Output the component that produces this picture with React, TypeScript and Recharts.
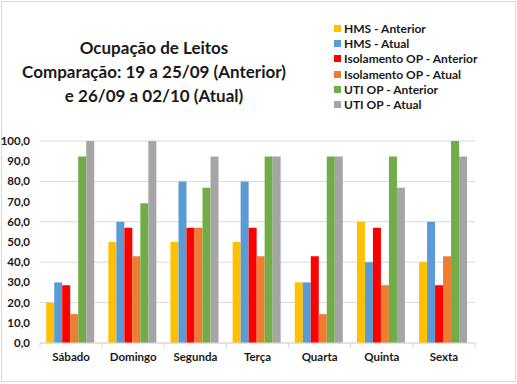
import React from "react";
import { BarChart, Bar, XAxis, YAxis, CartesianGrid } from "recharts";

const categories = ["Sábado", "Domingo", "Segunda", "Terça", "Quarta", "Quinta", "Sexta"];
const hmsAnterior = [20, 50, 50, 50, 30, 60, 40];
const hmsAtual = [30, 60, 80, 80, 30, 40, 60];
const isoAnterior = [28.6, 57.1, 57.1, 57.1, 42.9, 57.1, 28.6];
const isoAtual = [14.3, 42.9, 57.1, 42.9, 14.3, 28.6, 42.9];
const utiAnterior = [92.3, 69.2, 76.9, 92.3, 92.3, 92.3, 100];
const utiAtual = [100, 100, 92.3, 92.3, 92.3, 76.9, 92.3];
const yTicks = [0, 10, 20, 30, 40, 50, 60, 70, 80, 90, 100];
const titleLines = ["Ocupação de Leitos", "Comparação: 19 a 25/09 (Anterior)", "e 26/09 a 02/10 (Atual)"];

const series = [
  { key: "hmsAnterior", name: "HMS - Anterior", color: "#FFC000" },
  { key: "hmsAtual", name: "HMS - Atual", color: "#5B9BD5" },
  { key: "isoAnterior", name: "Isolamento OP - Anterior", color: "#FF0000" },
  { key: "isoAtual", name: "Isolamento OP - Atual", color: "#ED7D31" },
  { key: "utiAnterior", name: "UTI OP - Anterior", color: "#70AD47" },
  { key: "utiAtual", name: "UTI OP - Atual", color: "#A5A5A5" },
];

const data = categories.map((c, i) => ({
  name: c,
  hmsAnterior: hmsAnterior[i],
  hmsAtual: hmsAtual[i],
  isoAnterior: isoAnterior[i],
  isoAtual: isoAtual[i],
  utiAnterior: utiAnterior[i],
  utiAtual: utiAtual[i],
}));

const FONT = "Lato, 'Open Sans', sans-serif";

const CatTick = (props: any) => {
  const { x, y, payload, index } = props;
  const half = 435 / categories.length / 2;
  return (
    <g>
      <line x1={x - half} x2={x - half} y1={y - 8} y2={y - 3} stroke="#D9D9D9" />
      {index === categories.length - 1 && (
        <line x1={x + half} x2={x + half} y1={y - 8} y2={y - 3} stroke="#D9D9D9" />
      )}
      <text x={x} y={y + 10} textAnchor="middle" fontSize={11.5} fontWeight={700} fill="#1a1a1a" fontFamily={FONT}>
        {payload.value}
      </text>
    </g>
  );
};

export default function App() {
  return (
    <div style={{ position: "absolute", left: 0, top: 0, width: 517, height: 384, background: "#fff" }}>
      <div
        style={{
          position: "absolute",
          left: 1,
          top: 1,
          width: 513,
          height: 379,
          border: "1px solid #D9D9D9",
        }}
      />
      <div
        style={{
          position: "absolute",
          left: 4,
          top: 36,
          width: 300,
          textAlign: "center",
          fontFamily: FONT,
          fontWeight: 700,
          fontSize: 17,
          lineHeight: "24px",
          color: "#1a1a1a",
        }}
      >
        {titleLines.map((t) => (
          <div key={t}>{t}</div>
        ))}
      </div>
      <div style={{ position: "absolute", left: 334, top: 21, fontFamily: FONT }}>
        {series.map((s) => (
          <div key={s.key} style={{ display: "flex", alignItems: "center", height: 15.2 }}>
            <span style={{ display: "inline-block", width: 7, height: 7, background: s.color, marginRight: 3 }} />
            <span style={{ fontSize: 12, fontWeight: 700, color: "#1a1a1a", whiteSpace: "nowrap" }}>{s.name}</span>
          </div>
        ))}
      </div>
      <BarChart
        width={517}
        height={384}
        data={data}
        margin={{ top: 141, right: 42, left: 0, bottom: 11 }}
        barCategoryGap="10%"
        barGap={0}
      >
        <CartesianGrid vertical={false} stroke="#D9D9D9" />
        <XAxis
          dataKey="name"
          height={30}
          tickLine={false}
          axisLine={{ stroke: "#D9D9D9" }}
          tick={<CatTick />}
          interval={0}
        />
        <YAxis
          width={40}
          domain={[0, 100]}
          ticks={yTicks}
          axisLine={false}
          tickLine={false}
          tickFormatter={(v: number) => v.toFixed(1).replace(".", ",")}
          tick={{ fontSize: 11.5, fontWeight: 700, fill: "#1a1a1a", fontFamily: FONT }}
          tickMargin={4}
        />
        {series.map((s) => (
          <Bar key={s.key} dataKey={s.key} name={s.name} fill={s.color} isAnimationActive={false} />
        ))}
      </BarChart>
    </div>
  );
}
